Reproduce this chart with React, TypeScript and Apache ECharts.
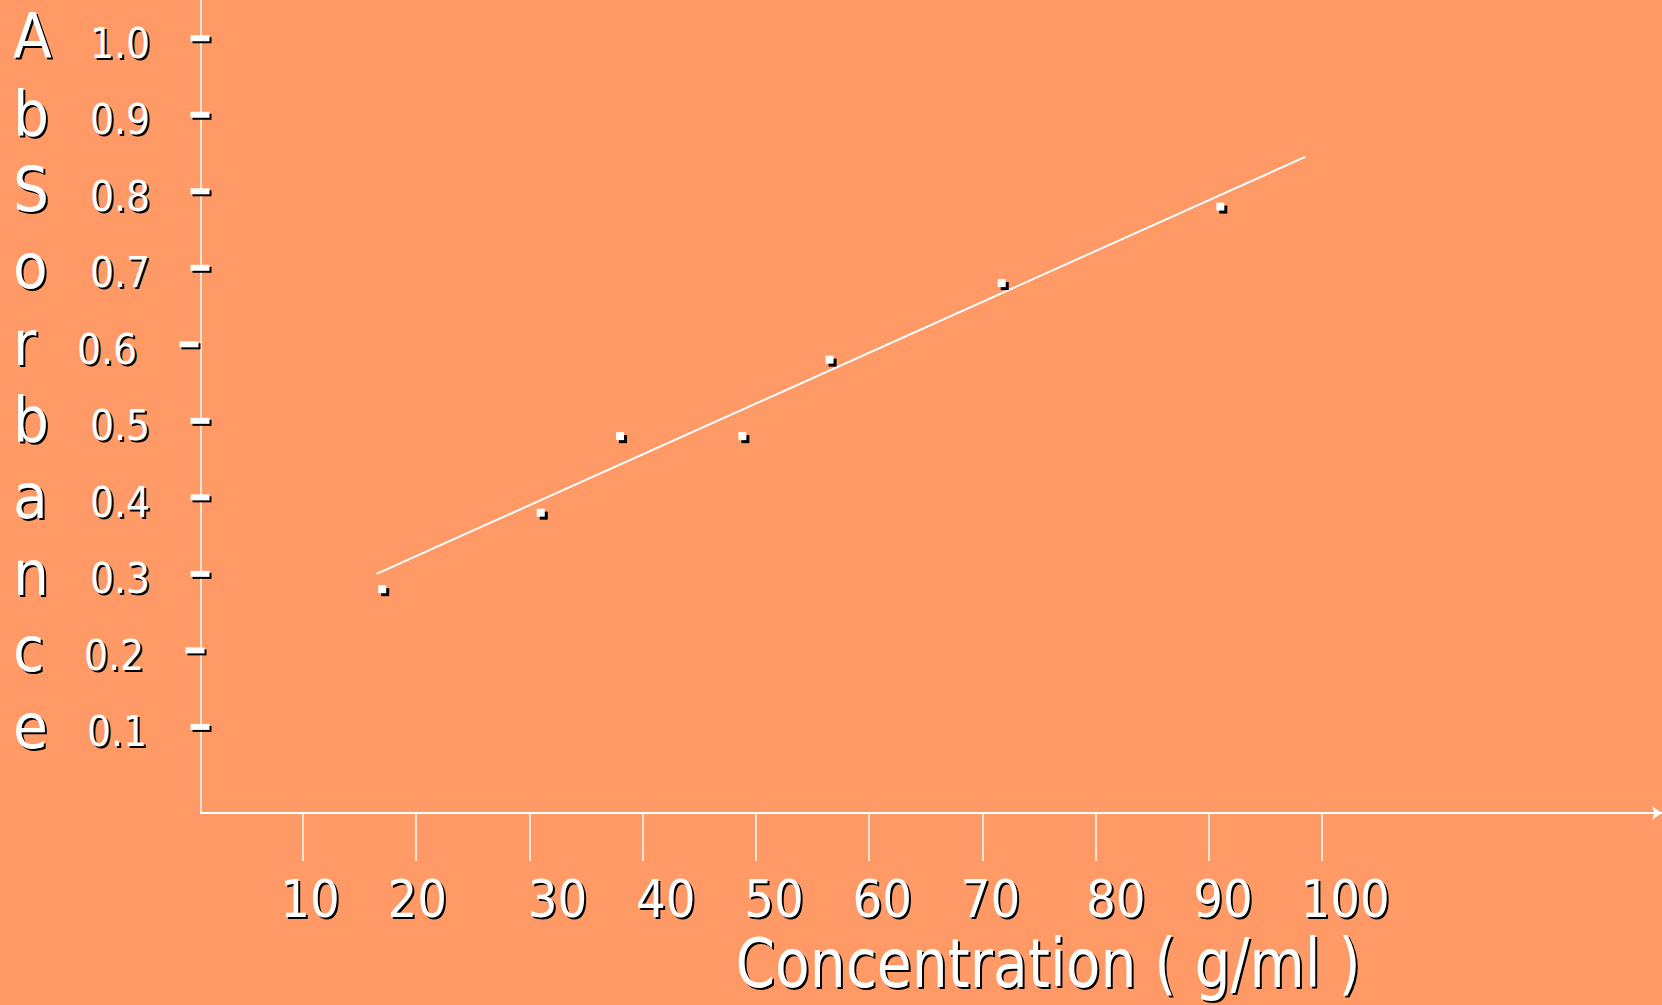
import React, { useEffect, useRef } from "react";
import * as echarts from "echarts";

const xTickValues = [10, 20, 30, 40, 50, 60, 70, 80, 90, 100];
const yTickValues = [0.1, 0.2, 0.3, 0.4, 0.5, 0.6, 0.7, 0.8, 0.9, 1.0];
const concentration = [17, 31, 38, 48.8, 56.5, 71.7, 91];
const absorbance = [0.28, 0.38, 0.48, 0.48, 0.58, 0.68, 0.78];
const fitLine = [
  [16.5, 0.3],
  [98.5, 0.845],
];
const yAxisLetters = ["A", "b", "S", "o", "r", "b", "a", "n", "c", "e"];
const xAxisTitle = "Concentration ( g/ml )";

const X_MIN = 1;
const X_MAX = 130;
const Y_MIN = -0.0125;
const Y_MAX = 1.05;

const FONT = "'DejaVu Sans Condensed', 'DejaVu Sans', sans-serif";
const BG = "#FF9966";
const SH = 2; // text shadow offset

// hand-placed label nudges of the original slide (pixels, to the right)
const xLabelNudge: Record<string, number> = {
  "10": 7, "20": 1, "30": 28, "40": 23, "50": 18,
  "60": 13, "70": 8, "80": 20, "90": 14, "100": 23,
};
// pixels to the left
const yLabelNudge: Record<string, number> = {
  "0.6": 13, "0.2": 6, "0.1": 3,
};
const yDashNudge: Record<string, number> = { "0.6": 11, "0.2": 5 };

function xRich(shadow: boolean) {
  const rich: Record<string, any> = {};
  xTickValues.forEach((v) => {
    const n = (xLabelNudge[String(v)] || 0) + (shadow ? SH : 0);
    rich["t" + v] = {
      color: shadow ? "#000" : "#fff",
      fontSize: 52,
      fontFamily: FONT,
      padding: [0, 0, 0, 2 * n],
    };
  });
  return rich;
}

function yRich(shadow: boolean) {
  const rich: Record<string, any> = {};
  yTickValues.forEach((v, i) => {
    const n = yLabelNudge[v.toFixed(1)] || 0;
    rich["t" + i] = {
      color: shadow ? "#000" : "#fff",
      fontSize: 42,
      fontFamily: FONT,
      padding: [0, n, 0, 0],
    };
  });
  return rich;
}

function xAxisDef(shadow: boolean) {
  return {
    type: "value",
    position: "bottom",
    min: X_MIN,
    max: X_MAX,
    z: shadow ? 0 : 1,
    splitLine: { show: false },
    axisLine: {
      show: !shadow,
      onZero: false,
      lineStyle: { color: "#fff", width: 2 },
      symbol: ["none", "arrow"],
      symbolSize: [10, 10],
    },
    axisTick: {
      show: !shadow,
      customValues: xTickValues,
      length: 48,
      lineStyle: { color: "#fff", width: 1.5 },
    },
    axisLabel: {
      show: true,
      customValues: xTickValues,
      color: shadow ? "#000" : "#fff",
      fontSize: 52,
      fontFamily: FONT,
      margin: 60 + (shadow ? SH : 0),
      formatter: (v: number) => `{t${v}|${v}}`,
      rich: xRich(shadow),
    },
  };
}

function yAxisDef(shadow: boolean) {
  return {
    type: "value",
    position: "left",
    min: Y_MIN,
    max: Y_MAX,
    z: shadow ? 0 : 1,
    splitLine: { show: false },
    axisLine: {
      show: !shadow,
      onZero: false,
      lineStyle: { color: "#fff", width: 1.5 },
    },
    axisTick: { show: false },
    axisLabel: {
      show: true,
      customValues: yTickValues,
      color: shadow ? "#000" : "#fff",
      fontSize: 42,
      fontFamily: FONT,
      margin: 51 - (shadow ? SH : 0),
      verticalAlign: "top",
      lineHeight: 10 + (shadow ? 2 * SH : 0),
      formatter: (v: number) => {
        const i = yTickValues.findIndex((t) => Math.abs(t - v) < 1e-6);
        return `{t${i}|${v.toFixed(1)}}`;
      },
      rich: yRich(shadow),
    },
  };
}

function textPair(base: any) {
  const black = {
    ...base,
    x: base.x + SH,
    y: base.y + SH,
    style: { ...base.style, fill: "#000" },
  };
  const white = { ...base, style: { ...base.style, fill: "#fff" } };
  return [black, white];
}

export default function App() {
  const ref = useRef<HTMLDivElement>(null);

  useEffect(() => {
    if (!ref.current) return;
    const chart = echarts.init(ref.current, null, { renderer: "svg" });
    const points = concentration.map((c, i) => [c, absorbance[i]]);
    const dashes = (dx: number, dy: number) =>
      yTickValues.map((v) => ({
        value: [X_MIN, v],
        symbolOffset: [dx - (yDashNudge[v.toFixed(1)] || 0), dy],
      }));

    chart.setOption({
      animation: false,
      backgroundColor: BG,
      grid: {
        left: 201,
        top: 0,
        right: 0,
        bottom: 192,
        outerBoundsMode: "none",
        containLabel: false,
      },
      xAxis: [xAxisDef(false), xAxisDef(true)],
      yAxis: [yAxisDef(false), yAxisDef(true)],
      graphic: [
        ...textPair({
          type: "text",
          x: 13,
          y: -2,
          style: {
            text: yAxisLetters.join("\n"),
            fontSize: 63,
            lineHeight: 76.7,
            fontFamily: FONT,
            align: "left",
            verticalAlign: "top",
          },
        }),
        ...textPair({
          type: "text",
          x: 1048,
          y: 963,
          scaleY: 1.08,
          style: {
            text: xAxisTitle,
            fontSize: 63,
            fontFamily: FONT,
            align: "center",
            verticalAlign: "middle",
          },
        }),
      ],
      series: [
        {
          type: "line",
          data: fitLine,
          symbol: "none",
          lineStyle: { color: "#fff", width: 2 },
          z: 2,
        },
        {
          type: "scatter",
          data: points,
          symbol: "rect",
          symbolSize: 8,
          symbolOffset: [3, 3],
          itemStyle: { color: "#000", opacity: 1 },
          z: 3,
        },
        {
          type: "scatter",
          data: points,
          symbol: "rect",
          symbolSize: 8,
          itemStyle: { color: "#fff", opacity: 1 },
          z: 4,
        },
        {
          type: "scatter",
          data: dashes(1, 2),
          clip: false,
          symbol: "rect",
          symbolSize: [19, 6],
          itemStyle: { color: "#000", opacity: 1 },
          z: 3,
        },
        {
          type: "scatter",
          data: dashes(-1, 0),
          clip: false,
          symbol: "rect",
          symbolSize: [19, 6],
          itemStyle: { color: "#fff", opacity: 1 },
          z: 4,
        },
      ],
    });
    return () => chart.dispose();
  }, []);

  return (
    <div
      ref={ref}
      style={{ position: "absolute", left: 0, top: 0, width: 1662, height: 1005 }}
    />
  );
}
